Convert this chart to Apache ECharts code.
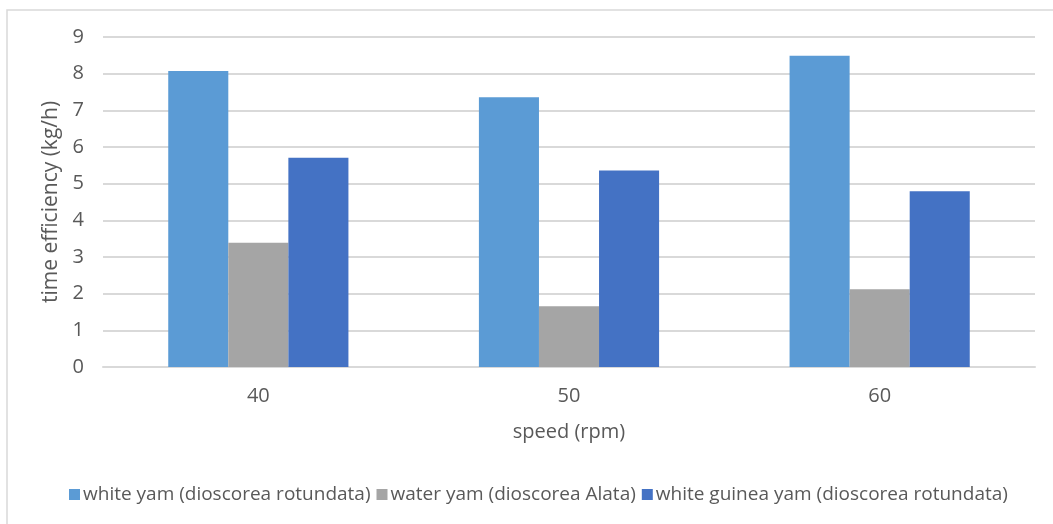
<!DOCTYPE html>
<html>
<head>
<meta charset="utf-8">
<script src="https://cdn.jsdelivr.net/npm/echarts@6/dist/echarts.min.js"></script>
<style>
  html, body { margin: 0; padding: 0; background: #ffffff; }
  #chart { width: 1053px; height: 524px; }
</style>
</head>
<body>
<div id="chart"></div>
<script>
// Speed settings (rpm) on the category axis
const speeds = ['40', '50', '60'];

// Time efficiency (kg/h) for each yam variety
const whiteYam = [8.07, 7.36, 8.49];
const waterYam = [3.39, 1.66, 2.12];
const whiteGuineaYam = [5.71, 5.36, 4.79];

const seriesNames = [
  'white yam (dioscorea rotundata)',
  'water yam (dioscorea Alata)',
  'white guinea yam (dioscorea rotundata)'
];

const yTicks = { min: 0, max: 9, interval: 1 };

const FONT = '"Open Sans", sans-serif';
const TEXT = '#595959';

const chart = echarts.init(document.getElementById('chart'), null, { renderer: 'canvas' });

function bar(name, data, color) {
  return {
    name: name,
    type: 'bar',
    data: data,
    barGap: '0%',
    barCategoryGap: '42%',
    itemStyle: { color: color },
    emphasis: { disabled: true }
  };
}

chart.setOption({
  animation: false,
  textStyle: { fontFamily: FONT },
  graphic: [{
    type: 'rect',
    shape: { x: 7, y: 10, width: 1100, height: 600 },
    style: { fill: 'none', stroke: '#d9d9d9', lineWidth: 1.5 },
    silent: true,
    z: -1
  }],
  grid: { left: 103, right: 18, top: 37, bottom: 157 },
  legend: {
    bottom: 15,
    left: 64,
    itemWidth: 11,
    itemHeight: 11,
    itemGap: 6,
    icon: 'rect',
    textStyle: { color: TEXT, fontSize: 19, fontFamily: FONT, padding: [0, 0, 0, -2] },
    data: seriesNames
  },
  xAxis: {
    type: 'category',
    data: speeds,
    name: 'speed (rpm)',
    nameLocation: 'middle',
    nameGap: 55,
    nameTextStyle: { color: TEXT, fontSize: 20, fontFamily: FONT },
    axisLine: { show: true, lineStyle: { color: '#d9d9d9', width: 2 } },
    axisTick: { show: false },
    axisLabel: { color: TEXT, fontSize: 20, margin: 19, fontFamily: FONT }
  },
  yAxis: {
    type: 'value',
    min: yTicks.min,
    max: yTicks.max,
    interval: yTicks.interval,
    name: 'time efficiency (kg/h)',
    nameLocation: 'middle',
    nameGap: 41,
    nameTextStyle: { color: TEXT, fontSize: 21, fontFamily: FONT },
    axisLine: { show: false },
    axisTick: { show: false },
    axisLabel: { color: TEXT, fontSize: 20, margin: 19, fontFamily: FONT },
    splitLine: { lineStyle: { color: '#d9d9d9', width: 2 } }
  },
  series: [
    bar(seriesNames[0], whiteYam, '#5B9BD5'),
    bar(seriesNames[1], waterYam, '#A5A5A5'),
    bar(seriesNames[2], whiteGuineaYam, '#4472C4')
  ]
});
</script>
</body>
</html>
